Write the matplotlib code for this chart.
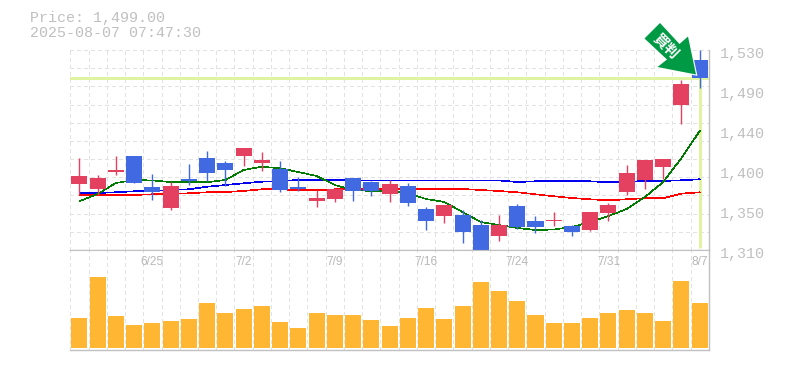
import matplotlib
matplotlib.use('Agg')
import matplotlib.pyplot as plt
from matplotlib.patches import Polygon
from matplotlib.transforms import IdentityTransform

# daily candles, oldest first
opens = [1383, 1377, 1396, 1413, 1379, 1356, 1388, 1411, 1406, 1413, 1406, 1399, 1379, 1364, 1366, 1389, 1385, 1372,
         1380, 1355, 1347, 1349, 1338, 1325, 1358, 1342, 1342, 1336, 1332, 1351, 1374, 1387, 1401, 1470, 1519]
highs = [1411, 1393, 1413, 1413, 1394, 1385, 1405, 1419, 1408, 1422, 1418, 1408, 1390, 1376, 1378, 1389, 1386, 1387,
         1384, 1357, 1360, 1354, 1343, 1349, 1361, 1347, 1352, 1338, 1352, 1362, 1404, 1409, 1410, 1497, 1530]
lows = [1372, 1371, 1393, 1384, 1365, 1354, 1382, 1386, 1380, 1402, 1397, 1374, 1375, 1357, 1363, 1364, 1369, 1363,
        1358, 1332, 1340, 1318, 1309, 1320, 1333, 1329, 1336, 1325, 1331, 1342, 1371, 1377, 1388, 1449, 1488]
closes = [1391, 1389, 1398, 1384, 1374, 1380, 1386, 1395, 1398, 1422, 1409, 1376, 1377, 1367, 1377, 1375, 1375, 1383,
          1362, 1342, 1360, 1330, 1310, 1338, 1335, 1335, 1343, 1330, 1352, 1360, 1395, 1409, 1410, 1493, 1499]

# moving averages
ma_short = [1363.6, 1371.6, 1383.7, 1387, 1386.5, 1384.8, 1384.5, 1384.5, 1387, 1398, 1401.6, 1399.9, 1395.8, 1391.4,
            1381.5, 1376, 1374.9, 1374.9, 1372.7, 1366.1, 1362.8, 1351.8, 1340.8, 1337.5, 1334.2, 1332, 1332.5, 1335.3,
            1340.8, 1347.4, 1355.1, 1368.3, 1384.8, 1411.2, 1440.9]
ma_mid = [1372.4, 1372.7, 1373.5, 1374.6, 1374.9, 1376, 1376.8, 1379.6, 1381.5, 1383.4, 1385.1, 1385.9, 1387, 1387.3,
          1387, 1386.5, 1386.5, 1386.5, 1386.5, 1386.5, 1386.5, 1386.5, 1386.5, 1386.5, 1384.8, 1385.6, 1385.6, 1385.6,
          1385.6, 1384.5, 1385.1, 1385.9, 1385.9, 1386.7, 1387.8]
ma_long = [1370.2, 1370.5, 1370.5, 1370.5, 1371.3, 1371.6, 1372.4, 1373.5, 1373.8, 1374.9, 1376.8, 1376.8, 1375.7,
           1375.7, 1376.8, 1377.4, 1377.4, 1377.4, 1377.4, 1377.4, 1377.4, 1377.1, 1376, 1374.9, 1373.5, 1371.3, 1369.1,
           1367.2, 1365.8, 1364.7, 1365.8, 1367, 1367, 1372, 1373.5]

volumes = [30, 71, 32, 23, 25, 27, 29, 45, 35, 39, 42, 26, 20, 35, 33, 33, 28, 22, 30, 40, 29, 42, 66, 57, 47, 33, 25,
           25, 30, 35, 38, 35, 27, 67, 45]

price_labels = ['1,530', '1,490', '1,440', '1,400', '1,350', '1,310']
date_idx = [4, 9, 14, 19, 24, 29, 34]
date_labels = ['6/25', '7/2', '7/9', '7/16', '7/24', '7/31', '8/7']
last_price = 1499

RED = '#e3415f'
BLUE = '#4169e1'
GRID = '#e2e2e2'
FRAME = '#c0c0c0'
TEXT = '#c0c0c0'
HILITE = '#e0f3a2'
PX = 0.72  # one pixel in points at dpi 100
MONO = 'Liberation Mono'

W, H = 785, 370
fig = plt.figure(figsize=(W / 100, H / 100), dpi=100)
ax = fig.add_axes([70.3 / W, 120 / H, 638.5 / W, 200 / H])
vol = fig.add_axes([70.3 / W, 20 / H, 638.5 / W, 100 / H])

n = len(closes)
grid_x = [i - 0.5 for i in range(n + 1)]
for a in (ax, vol):
    a.set_xlim(-0.5, n - 0.5)
    a.tick_params(length=0, labelleft=False, labelbottom=False)
    a.set_xticks([])
    a.set_yticks([])
    for x in grid_x:
        a.axvline(x, color=GRID, lw=PX, ls=(0, (3, 3)), zorder=1, antialiased=False, clip_on=False)
    for s in a.spines.values():
        s.set_visible(False)
    a.spines['bottom'].set_visible(True)
    a.spines['right'].set_visible(True)
    a.spines['bottom'].set_color(FRAME)
    a.spines['right'].set_color(FRAME)
    a.spines['bottom'].set_linewidth(1.4 * PX)
    a.spines['right'].set_linewidth(1.4 * PX)
vol.spines['top'].set_visible(True)
vol.spines['top'].set_color(FRAME)

ax.set_ylim(1310, 1530)
vol.set_ylim(-2, 98)

# horizontal grid has 11 steps of 20
for y in range(1310, 1531, 20):
    ax.axhline(y, color=GRID, lw=PX, ls=(0, (3, 3)), zorder=1, antialiased=False)

# last price marker
ax.axhline(last_price, color=HILITE, lw=3 * PX, zorder=2)
ax.plot([n - 1, n - 1], [last_price, 1312], color=HILITE, lw=3 * PX, zorder=2, solid_capstyle='butt')

xs = list(range(n))
ax.plot(xs, ma_long, color='#ff0000', lw=0.45, zorder=3, antialiased=False)
ax.plot(xs, ma_mid, color='#0000ee', lw=0.45, zorder=3, antialiased=False)
ax.plot(xs, ma_short, color='#007a00', lw=0.45, zorder=3, antialiased=False)

for i in range(n):
    up = closes[i] >= opens[i]
    c = RED if up else BLUE
    ax.plot([i, i], [lows[i], highs[i]], color=c, lw=1.4 * PX, zorder=4, solid_capstyle='butt', clip_on=False)
    ax.bar(i, abs(closes[i] - opens[i]), bottom=min(opens[i], closes[i]), width=0.878, color=c, zorder=5, clip_on=False)

vol.bar(xs, volumes, width=0.878, color='#ffb733', zorder=3)

# right hand price labels sit every 40 px and slightly below their level
for k, label in enumerate(price_labels):
    ax.annotate(label, (1, 1 - k / 5), xycoords='axes fraction', xytext=(11, -4), textcoords='offset pixels',
                family=MONO, fontsize=10.8, color=TEXT, va='center', ha='left', annotation_clip=False)

for i, label in zip(date_idx, date_labels):
    vol.annotate(label, (i, 1), xycoords=('data', 'axes fraction'), xytext=(0, -12), textcoords='offset pixels',
                 family='Liberation Sans', fontsize=8.6, color='#b8b8b8', va='center', ha='center',
                 annotation_clip=False)

fig.text(30 / W, 1 - 18 / H, 'Price: 1,499.00', family=MONO, fontsize=10.8, color=TEXT, va='center')
fig.text(30 / W, 1 - 33 / H, '2025-08-07 07:47:30', family=MONO, fontsize=10.8, color=TEXT, va='center')

# signal arrow, pixel outline from the top left of the image
arrow_px = [(660, 23), (644.5, 38.5), (667, 59.5), (657.5, 67), (696, 74.5), (688, 36.5), (679.5, 44)]
arrow_xy = [(x, H - y) for x, y in arrow_px]
fig.add_artist(Polygon(arrow_xy, closed=True, facecolor='white', edgecolor='white', lw=1.6, joinstyle='miter',
                       transform=IdentityTransform(), zorder=6))
fig.add_artist(Polygon(arrow_xy, closed=True, facecolor='#009944', edgecolor='none',
                       transform=IdentityTransform(), zorder=6.5))
fig.text(666 / W, 1 - 45.5 / H, '買判', family=['Noto Sans CJK JP', 'DejaVu Sans'], fontweight='bold', fontsize=10.5,
         color='white', rotation=-45, ha='center', va='center', rotation_mode='anchor', zorder=7)

fig.savefig('out.png', dpi=100)
